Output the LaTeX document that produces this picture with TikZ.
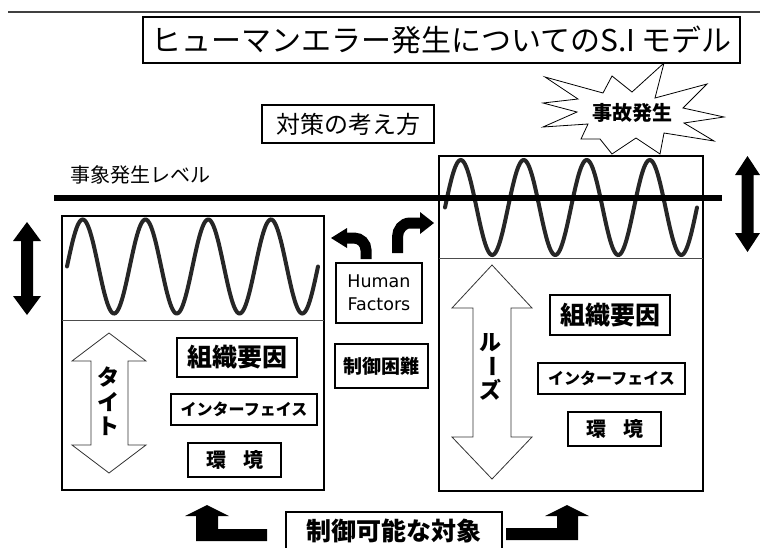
\documentclass[tikz,border=0pt]{standalone}
\usepackage{fontspec}
\newfontfamily\jp{Noto Sans CJK JP}
\newfontfamily\hf{DejaVu Sans}
\tikzset{
  bigbox/.style={draw, line width=2.8, inner sep=0pt},
  midbox/.style={draw, line width=2, inner sep=0pt},
  smallbox/.style={draw, line width=1.1, inner sep=0pt},
  wave/.style={line width=4, black!85, line cap=round, smooth},
  solidarrow/.style={fill=black, draw=none},
  hollowarrow/.style={draw=black!80, line width=0.8, fill=white},
  jpreg/.style={font=\jp\fontsize{#1}{#1}\selectfont},
  jpbold/.style={font=\jp\bfseries\fontsize{#1}{#1}\selectfont},
}
\begin{document}
\begin{tikzpicture}[x=1pt,y=-1pt, line join=miter]
\useasboundingbox (0,0) rectangle (760,547);
% top rule
\draw[line width=1.5, black!75] (8,12) -- (760,12);
% title
\node[bigbox, minimum width=597, minimum height=46, jpreg=30] (title) at (441.5,40) {ヒューマンエラー発生についてのS.I モデル};
% measures
\node[bigbox, minimum width=172, minimum height=38, jpreg=24] (taisaku) at (348,124) {対策の考え方};
% star burst
\draw[line width=0.8, fill=white] (545,77) -- (603,93) -- (612,76) -- (632,92) -- (664,63) -- (655,98) -- (707,84) -- (683,108) -- (724,117) -- (684,123) -- (714,141) -- (664,133) -- (660,154) -- (636,138) -- (612,154) -- (600,139) -- (581,139) -- (588,124) -- (543,127) -- (577,112) -- (543,103) -- (578,99) -- cycle;
\node[jpbold=20, inner sep=0] (jiko) at (632,113) {事故発生};
% level label
\node[jpreg=20, inner sep=0] (levellbl) at (140,175) {事象発生レベル};
% left box
\draw[line width=2.8] (62,216) rectangle (324,490);
\draw[line width=1, black!70] (62,320) -- (324,320);
% right box
\draw[line width=2.8] (439,156) rectangle (703,491);
\draw[line width=1, black!70] (439,258) -- (703,258);
% waves
\draw[wave] plot[domain=67:318, samples=240] (\x, {266.5 - 47*sin(5.7371*(\x-67))});
\draw[wave] plot[domain=445:697, samples=240] (\x, {207.5 - 47.5*sin(5.7143*(\x-445))});
% level line
\draw[line width=6] (54,198) -- (722,198);
% black double arrows
\draw[solidarrow] (27,222) -- (41,241) -- (33,241) -- (33,296) -- (41,296) -- (27,315) -- (13,296) -- (21,296) -- (21,241) -- (13,241) -- cycle;
\draw[solidarrow] (747.5,156) -- (760,175) -- (753.5,175) -- (753.5,233) -- (760,233) -- (747.5,252) -- (735,233) -- (741.5,233) -- (741.5,175) -- (735,175) -- cycle;
% human factors
\node[midbox, minimum width=86, minimum height=60, align=center, font=\hf\fontsize{17.5}{23}\selectfont] (hf) at (379,293) {Human\\Factors};
\node[midbox, minimum width=93, minimum height=44, jpbold=19] (seigyo) at (381.5,366) {制御困難};
% curved arrows
\draw[line width=11] (366,259) -- (366,250) to[out=90,in=0] (354,238) -- (346,238);
\fill (347,228) -- (331,238) -- (347,248) -- cycle;
\draw[line width=11] (397.5,253) -- (397.5,237) to[out=90,in=180] (410,223) -- (421,223);
\fill (420,212) -- (434,223) -- (420,234) -- cycle;
% left inner labels
\node[smallbox, minimum width=120, minimum height=39, jpbold=25] (soshikiL) at (237,357.5) {組織要因};
\node[smallbox, minimum width=146, minimum height=31, jpbold=16] (ifL) at (244,409.5) {インターフェイス};
\node[smallbox, minimum width=93, minimum height=34, jpbold=20] (kankyoL) at (234.5,460) {環\hspace{17pt}境};
% right inner labels
\node[smallbox, minimum width=120, minimum height=40, jpbold=25] (soshikiR) at (610,315) {組織要因};
\node[smallbox, minimum width=147, minimum height=31, jpbold=16] (ifR) at (611.5,378.5) {インターフェイス};
\node[smallbox, minimum width=93, minimum height=34, jpbold=20] (kankyoR) at (614.5,429) {環\hspace{17pt}境};
% hollow arrows
\draw[hollowarrow] (109,333) -- (146,361) -- (128,361) -- (128,445) -- (146,445) -- (109,473) -- (72,445) -- (91,445) -- (91,361) -- (72,361) -- cycle;
\draw[hollowarrow] (492,265) -- (532,308) -- (511,308) -- (511,437) -- (532,437) -- (492,479) -- (452,437) -- (473,437) -- (473,308) -- (452,308) -- cycle;
% vertical texts
\node[jpbold=22, inner sep=0] (ta) at (108,377) {タ};
\node[jpbold=22, inner sep=0] (i) at (108,402) {イ};
\node[jpbold=22, inner sep=0] (to) at (108,426) {ト};
\node[jpbold=22, inner sep=0] (ru) at (490,343) {ル};
\node[jpbold=22, inner sep=0, rotate=-90] (bar) at (490,366) {ー};
\node[jpbold=22, inner sep=0] (zu) at (490,390) {ズ};
% bottom
\node[midbox, line width=2.5, minimum width=216, minimum height=38, jpbold=25] (kanou) at (394,531) {制御可能な対象};
\draw[solidarrow] (207,505) -- (229,516) -- (218,516) -- (218,529) -- (267,529) -- (267,541) -- (196,541) -- (196,516) -- (185,516) -- cycle;
\draw[solidarrow] (567,505) -- (589,516) -- (578,516) -- (578,540) -- (506,540) -- (506,528) -- (557,528) -- (557,516) -- (545,516) -- cycle;
\end{tikzpicture}
\end{document}
